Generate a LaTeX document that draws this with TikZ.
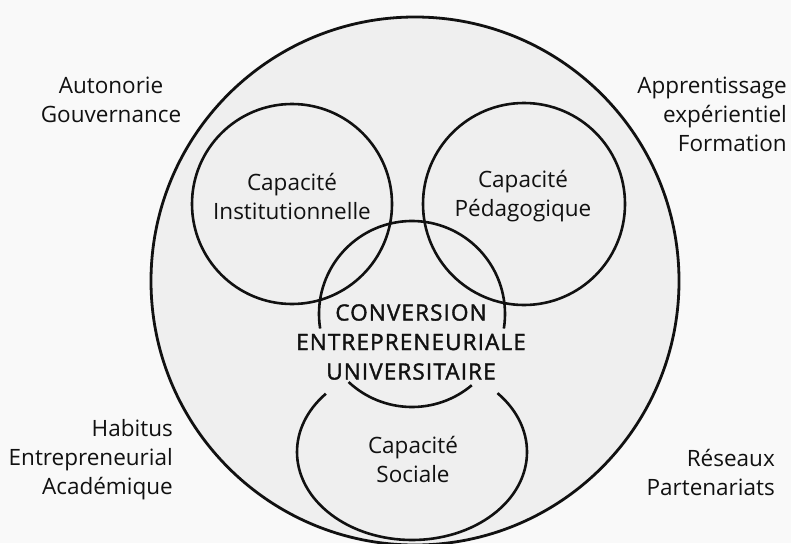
\documentclass[tikz,border=0pt]{standalone}
\usepackage{fontspec}
\setmainfont{Open Sans}
\newfontfamily\medfont[FakeBold=1.6,LetterSpace=5]{Open Sans}
\definecolor{ink}{RGB}{17,17,17}
\definecolor{paper}{RGB}{249,249,249}
\definecolor{disc}{RGB}{239,239,239}
\begin{document}
\begin{tikzpicture}[x=1pt,y=-1pt,
  ring/.style={draw=ink, line width=2.6pt},
  lbl/.style={font=\fontsize{22.5}{29}\selectfont, text=ink, inner sep=0pt},
  core/.style={lbl, font=\fontsize{22.5}{29.5}\selectfont\medfont, align=center}]
  % canvas
  \fill[paper] (0,0) rectangle (791,543);
  \useasboundingbox (0,0) rectangle (791,543);
  \begin{scope}
    \clip (0,0) rectangle (791,543);
    % outer disc
    \filldraw[ring, fill=disc, line width=2.8pt] (415,281) circle [radius=264];
  \end{scope}
  % two upper capacities
  \draw[ring] (292,204) circle [radius=100];
  \draw[ring] (524,204) circle [radius=101];
  % central conversion ring, opened where the title passes
  \draw[ring] (412,314) ++(171:93) arc [start angle=171, end angle=369, radius=93];
  \draw[ring] (412,314) ++(50:93) arc [start angle=50, end angle=133, radius=93];
  % social capacity, opened under the central ring
  \draw[ring] (412,452) ++(-42:115 and 88)
    arc [start angle=-42, end angle=221.5, x radius=115, y radius=88];

  % labels inside
  \node[lbl, align=center] (inst) at (292,196) {Capacité\\Institutionnelle};
  \node[lbl, align=center] (peda) at (523,196) {Capacité\\Pédagogique};
  \node[lbl, align=center] (soc) at (413,459) {Capacité\\Sociale};
  \node[core] (conv) at (411,342) {CONVERSION\\ENTREPRENEURIALE\\UNIVERSITAIRE};

  % labels outside
  \node[lbl, align=center] (gouv) at (111,100) {Autonorie\\Gouvernance};
  \node[lbl, align=right, anchor=east] (appr) at (787,114) {Apprentissage\\expérientiel\\Formation};
  \node[lbl, align=right, anchor=east] (habi) at (173,460) {Habitus\\Entrepreneurial\\Académique};
  \node[lbl, align=right, anchor=east] (rese) at (775,472) {Réseaux\\Partenariats};
\end{tikzpicture}
\end{document}
